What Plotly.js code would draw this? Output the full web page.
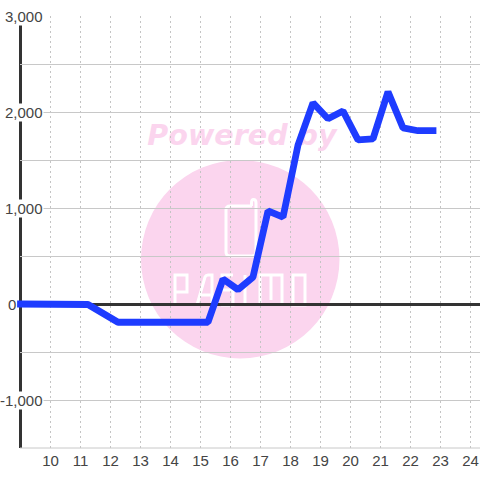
<!DOCTYPE html>
<html>
<head>
<meta charset="utf-8">
<script src="https://cdn.plot.ly/plotly-3.0.1.min.js"></script>
<style>
html,body{margin:0;padding:0;background:#fff}
#chart{width:480px;height:480px}
.js-line{stroke-linejoin:bevel !important;stroke-linecap:square !important}
.cartesianlayer g,.cartesianlayer path{clip-path:none !important}
</style>
</head>
<body>
<div id="chart"></div>
<script>
const hours = [9, 9.75, 10.25, 11.25, 12.25, 15.25, 15.75, 16.25, 16.75, 17.25, 17.75, 18.25, 18.75, 19.25, 19.75, 20.25, 20.75, 21.25, 21.75, 22.25, 22.75];
const values = [0, 0, -5, -5, -190, -190, 260, 150, 280, 970, 905, 1655, 2095, 1930, 2010, 1710, 1720, 2210, 1835, 1805, 1805];
const yLabelValues = [3000, 2000, 1000, 0, -1000];
const yLabelText = ['3,000', '2,000', '1,000', '0', '-1,000'];
const yLabelRightEdges = [43.5, 43.5, 43.5, 16.5, 43.5];
const xTickValues = [10, 11, 12, 13, 14, 15, 16, 17, 18, 19, 20, 21, 22, 23, 24];
const xTickText = ['10', '11', '12', '13', '14', '15', '16', '17', '18', '19', '20', '21', '22', '23', '24'];

const PINK = '#fbd5ee';
const L = 20, T = 16, W = 460, H = 432;
const px = v => (v - L) / W;
const py = v => (T + H - v) / H;
function logoPath(d) {
  return d.map(s => s[0] + ' ' + (s.length > 1 ? s.slice(1).map((n, i) => i % 2 ? py(n) : px(n)).join(' ') : '')).join(' ');
}
const strokes = [
  [['M',252,206],['L',230,206],['Q',226,206,226,210],['L',226,252],['Q',226,256,230,256],['L',252,256],['Q',256,256,256,252],['L',256,203],['Q',256,199.5,253.5,199.5],['Q',251.5,199.5,251.5,203],['L',251.5,206]],
  [['M',175,305],['L',175,275],['L',187,275],['L',187,292],['L',175,292]],
  [['M',197,305],['L',205,277],['Q',206,275,208,275],['L',212,275],['L',212,305],['M',199,295],['L',212,295]],
  [['M',233,275],['L',222,275],['L',222,290],['L',233,290],['L',233,305],['L',221,305]],
  [['M',245,275],['L',245,305]],
  [['M',260,305],['L',260,275],['L',282,275],['L',282,305],['M',271,275],['L',271,300]],
  [['M',293,275],['L',305,275],['L',305,305],['L',293,305],['Z']]
];

const shapes = [
  {type:'circle', layer:'below', xref:'paper', yref:'paper', x0:px(141), x1:px(339.5), y0:py(358.5), y1:py(160), fillcolor:PINK, line:{width:0}},
  {type:'rect', layer:'below', xref:'paper', yref:'paper', x0:px(142), x1:px(342), y0:py(153), y1:py(113), fillcolor:'rgba(0,0,0,0)', line:{width:0},
   label:{text:'Powered by', textposition:'middle center', font:{family:'DejaVu Sans', size:28.6, color:PINK, weight:'bold', style:'italic'}}}
].concat(strokes.map(s => ({type:'path', layer:'below', xref:'paper', yref:'paper', path:logoPath(s), line:{color:'#ffffff', width:3}, fillcolor:'rgba(0,0,0,0)'})))
 .concat([
  {type:'line', layer:'below', xref:'paper', yref:'paper', x0:px(20.5), x1:px(20.5), y0:0, y1:1, line:{color:'#333333', width:3}},
  {type:'line', layer:'below', xref:'paper', yref:'paper', x0:0, x1:1, y0:0, y1:0, line:{color:'#c8c8c8', width:1}}
 ]);

const annotations = yLabelValues.map((v, i) => ({
  xref:'paper', yref:'y', x:px(yLabelRightEdges[i]), y:v, xanchor:'right', yanchor:'middle',
  text:yLabelText[i], showarrow:false, bgcolor: v === 0 ? 'rgba(0,0,0,0)' : '#ffffff', borderpad:0,
  font:{family:'Liberation Sans, Arial, sans-serif', size:15, color:'#444444'}
}));

Plotly.newPlot('chart', [{
  x: hours, y: values, type:'scatter', mode:'lines', cliponaxis:false,
  line:{color:'#1e3cff', width:6.8, shape:'linear'}, hoverinfo:'skip'
}], {
  width:480, height:480,
  margin:{l:L, r:0, t:T, b:32, pad:0},
  paper_bgcolor:'#ffffff', plot_bgcolor:'rgba(0,0,0,0)',
  showlegend:false,
  xaxis:{range:[8.98333, 24.31667], tickmode:'array', tickvals:xTickValues, ticktext:xTickText, ticks:'', ticklabelstandoff:2,
    showgrid:true, gridcolor:'#c4c4c4', gridwidth:1, griddash:'2px,3px', zeroline:false, showline:false,
    tickfont:{family:'Liberation Sans, Arial, sans-serif', size:15, color:'#444444'}},
  yaxis:{range:[-1500, 3000], tick0:0, dtick:500, ticks:'', showticklabels:false,
    showgrid:true, gridcolor:'#c8c8c8', gridwidth:1,
    zeroline:true, zerolinecolor:'#333333', zerolinewidth:3, showline:false},
  shapes, annotations
}, {displayModeBar:false, staticPlot:true});
</script>
</body>
</html>
